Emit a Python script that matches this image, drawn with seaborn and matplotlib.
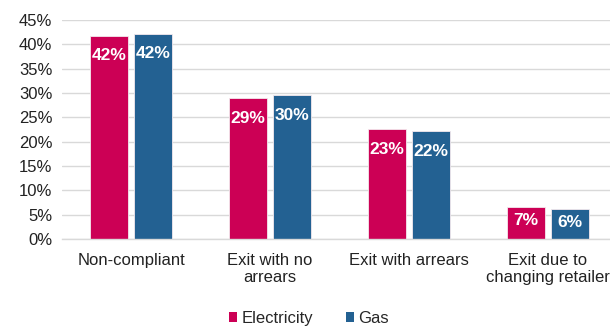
import matplotlib
matplotlib.use("Agg")
import matplotlib.pyplot as plt
import seaborn as sns
import pandas as pd
from matplotlib.patches import Patch

categories = ["Non-compliant", "Exit with no\narrears", "Exit with arrears", "Exit due to\nchanging retailer"]
electricity = [41.8, 29.0, 22.6, 6.6]
gas = [42.2, 29.6, 22.1, 6.2]
series = ["Electricity", "Gas"]
colors = ["#CC0055", "#236192"]
yticks = [0, 5, 10, 15, 20, 25, 30, 35, 40, 45]

df = pd.DataFrame({
    "Category": categories * 2,
    "Fuel": [series[0]] * len(categories) + [series[1]] * len(categories),
    "Value": electricity + gas,
})

sns.set_theme(style="white")
plt.rcParams["font.family"] = ["Liberation Sans", "DejaVu Sans"]

fig = plt.figure(figsize=(6.1, 3.29), dpi=100)
# plot area runs slightly past the right edge of the figure
ax = fig.add_axes([62 / 610, 1 - 239 / 329, 555 / 610, 219 / 329])

sns.barplot(data=df, x="Category", y="Value", hue="Fuel", order=categories,
            hue_order=series, palette=colors, saturation=1, width=0.634, gap=0.136,
            edgecolor="#f4e9ee", linewidth=0.6, legend=False, ax=ax)

ax.set_xlim(-0.5, 3.5)
ax.set_ylim(0, 45)
ax.set_yticks(yticks)
ax.set_yticklabels([f"{t}%" for t in yticks], fontsize=12, color="#222222")
ax.tick_params(axis="x", labelsize=12, colors="#222222", length=0, pad=10)
ax.tick_params(axis="y", length=0, pad=7)
ax.set_xlabel("")
ax.set_ylabel("")
ax.grid(axis="y", color="#D9D9D9", linewidth=1)
ax.set_axisbelow(True)
for side in ["left", "right", "top"]:
    ax.spines[side].set_visible(False)
ax.spines["bottom"].set_color("#D9D9D9")
ax.spines["bottom"].set_linewidth(1)

# value labels inside each bar, near the top (centred on short bars)
px_per_unit = 219 / 45
for container in ax.containers:
    for bar in container:
        h = bar.get_height()
        xc = bar.get_x() + bar.get_width() / 2
        offset = -14.5 if h * px_per_unit > 45 else -9.5
        ax.annotate(f"{h:.0f}%", (xc, h), xytext=(0, offset), textcoords="offset points",
                    ha="center", va="center", color="white", fontsize=12.5, fontweight="bold")

handles = [Patch(facecolor=c, edgecolor="none") for c in colors]
fig.legend(handles, series, loc="center", bbox_to_anchor=(0.507, 0.032), ncol=2,
           frameon=False, fontsize=12, handlelength=0.48, handleheight=0.48,
           handletextpad=0.25, columnspacing=2.0)

fig.savefig("out.png", dpi=100)
